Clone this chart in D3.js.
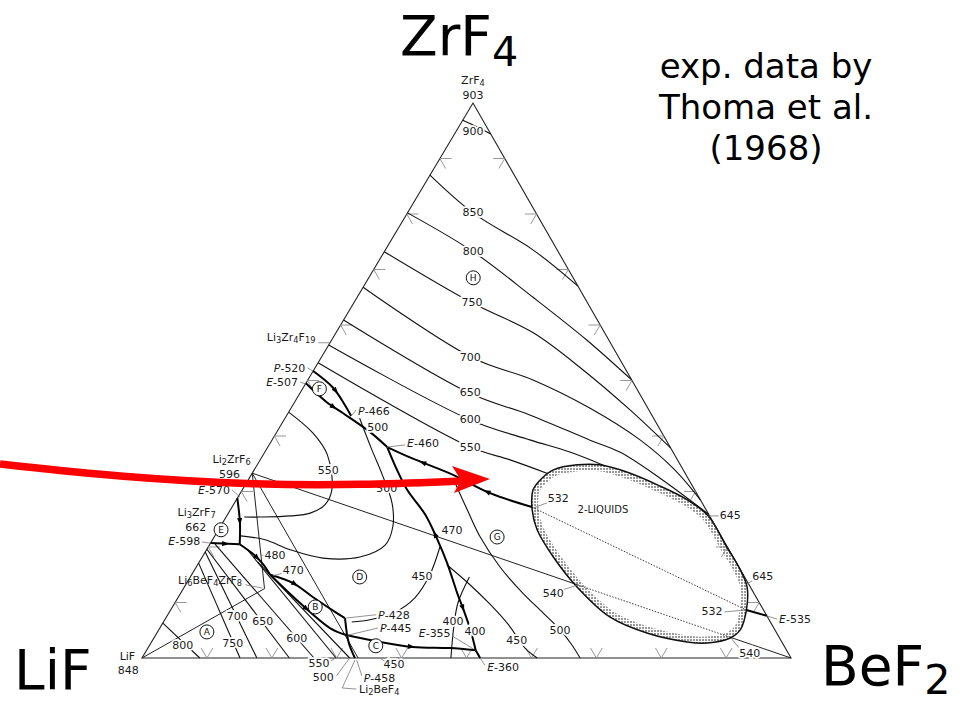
<!DOCTYPE html>
<html>
<head>
<meta charset="utf-8">
<script src="https://cdn.jsdelivr.net/npm/d3@7"></script>
<style>
  body { margin: 0; background: #fff; }
  svg { display: block; }
  text { font-family: "DejaVu Sans", sans-serif; }
</style>
</head>
<body>
<svg id="chart" width="964" height="703"></svg>
<script>
// all compositions are [mol% BeF2, mol% ZrF4], LiF is the rest

// ---- isotherms (thin lines) ----
var iso900 = [[0,96.9],[2.8,95.7],[5.6,94.4]];
var iso850 = [[0,87.0],[10.1,80.2],[22.8,73.5],[33.0,67.0]];
var iso800 = [[0,80.2],[13.7,73.2],[27.1,65.0],[39.3,57.3],[49.9,50.1]];
var iso750 = [[0,73.2],[18.2,64.0],[30.4,58.6],[41.5,51.9],[52.4,44.7],[62.2,37.8]];
var iso700 = [[0,66.8],[23.3,54.1],[34.7,50.1],[46.1,45.0],[56.7,39.3],[64.8,33.9],[71.5,28.5]];
var iso650 = [[0,60.9],[26.2,47.7],[37.4,43.8],[48.9,39.3],[54.7,37.1],[63.3,32.4],[74.1,25.9]];
var iso600 = [[0,56.4],[28.7,42.9],[39.7,39.3],[47.0,37.1],[53.7,34.6]];
var iso550 = [[0,53.2],[31.2,38.0],[38.5,35.7],[45.4,33.3]];
// Li2ZrF6 field
var isoD550 = [[0,44.3],[5.7,40.5],[9.9,36.6],[13.8,30.3],[14.1,27.6],[12.6,26.1],[9.8,25.6],[5.2,25.4],[2.8,25.4]];
var isoD500 = [[11.5,43.2],[16.3,37.5],[20.2,33.0],[24.3,27.9],[26.6,23.6],[27.1,20.4],[24.3,18.2],[18.7,18.0],[12.9,19.5],[8.1,21.3],[4.0,22.0]];
var isoD450 = [[35.7,20.0],[36.7,15.0],[36.5,10.8],[34.8,8.3],[31.6,6.9],[29.0,6.5]];
var isoD400 = [[43.0,14.6],[43.6,10.0],[45.1,5.8],[47.6,0]];
// BeF2 field
var isoG500 = [[31.4,32.4],[36.5,26.7],[41.0,21.8],[46.8,16.4],[52.7,11.7],[57.7,8.1],[61.8,5.1],[65.1,2.3],[67.5,0]];
var isoG450 = [[38.4,16.8],[43.8,13.2],[48.8,9.6],[53.4,6.0],[58.1,1.8],[60.9,0]];
// LiF field, fanning out from the LiF-ZrF4 side
var isoA800 = [[0,6.3],[8.9,0]];
var isoA750 = [[0,17.1],[15.1,0]];
var isoA700 = [[0,19.1],[17.7,0]];
var isoA650 = [[0,19.6],[22.7,0]];
var isoA600 = [[0.8,20.5],[26.5,0]];
var isoA550 = [[6.3,19.5],[29.9,0]];
var isoA500 = [[9.0,17.3],[32.0,0]];

// ---- phase boundaries (heavy lines) ----
var bP520 = [[0,51.7],[4.6,48.7],[8.0,45.6],[10.0,43.6]];
var bE507 = [[0,49.5],[5.1,46.0],[8.5,44.1],[14.4,40.7],[18.4,38.0]];
var bHG = [[18.4,38.0],[23.2,36.0],[31.1,33.0],[38.5,29.7],[46.2,27.2]];
var bDG = [[18.4,38.0],[22.0,33.9],[25.4,30.3],[30.5,25.8],[34.4,21.6],[38.3,17.1],[42.6,11.7],[45.1,8.7],[48.0,5.1],[50.7,1.4]];
var bCG = [[50.7,1.4],[52.1,0]];
var bCD = [[29.5,4.1],[35.2,2.9],[40.7,2.0],[46.5,1.8],[50.7,1.4]];
var bBD = [[12.1,15.0],[16.4,13.5],[20.7,11.0],[25.9,8.1],[27.6,7.2]];
var bP428 = [[27.6,7.2],[29.5,4.1]];
var bEvert = [[0,28.8],[2.7,24.3],[4.6,20.5]];
var bEA = [[0,20.7],[4.6,20.5]];
var bAD = [[4.6,20.5],[7.3,18.9],[9.8,17.1],[12.1,15.0]];
var bAB = [[12.1,15.0],[19.3,9.9],[26.2,5.4],[29.5,4.1]];
var bAC = [[29.5,4.1],[30.8,2.3],[32.8,0]];
var bE535 = [[88.7,8.65],[92.4,7.6]];

// ---- 2-liquid region ----
var gap = [[44.8,30.3],[45.1,32.4],[46.1,33.9],[49.3,34.8],[52.8,34.8],[57.6,33.5],[63.5,31.2],[69.5,28.5],
  [74.2,25.6],[79.9,20.0],[83.6,16.4],[86.7,12.8],[88.7,8.7],[89.6,5.1],[88.8,3.6],[85.7,2.7],[82.5,2.9],
  [75.5,4.5],[68.3,7.4],[60.5,12.8],[54.1,18.2],[49.1,23.1],[46.5,26.7]];
var tie532 = [[46.2,27.2],[88.7,8.65]];
var tie540 = [[60.5,13.15],[88.6,3.78]];

// ---- compound joins ----
var joins = [
  [[0,0],[12.5,12.5]],
  [[0,33.3],[12.5,12.5]],
  [[0,33.3],[33.3,0]],
  [[0,33.3],[60.5,13.15]],
  [[88.6,3.78],[100,0]]
];

// ---- labels: text, BeF2, ZrF4 ----
var labels = [
  ["900",2.65,94.8],["850",10.1,80.2],["800",13.7,73.2],["750",18.2,64.0],["700",23.0,54.1],
  ["650",26.2,47.8],["600",28.7,42.9],["550",31.2,38.0],["500",15.1,41.6],
  ["550",11.5,33.7],["500",22.1,30.6],["450",35.7,14.6],["470",36.1,22.9],
  ["480",11.1,18.4],["470",15.3,15.7],["400",44.6,6.5],["400",48.9,4.7],
  ["450",56.1,3.2],["500",61.9,4.9],["540",57.4,11.7],["532",49.5,28.7],
  ["645",77.6,25.6],["645",88.2,14.6],["532",83.6,8.3],["540",93.2,0.9],
  ["800",5.1,2.3],["750",12.6,2.7],["700",10.9,7.4],["650",15.3,6.5],["600",22.0,3.6],
  ["550",27.8,-1.0],["500",29.7,-3.5],["450",39.4,-1.1],
  ["596",-3.4,33.1],["662",-3.7,23.5],["848",-1.0,-2.2],["903",-0.7,101.4]
];
var labelsEnd = [["P-520",-1.5,52.3],["E-507",-1.3,49.7],["E-570",-1.9,30.3],["E-598",-1.8,21.1]];
var labelsStart = [["P-466",10.6,44.5],["E-460",21.1,38.7],["P-428",32.4,7.8],["P-445",33.9,5.4],
  ["E-535",94.6,7.0],["P-458",36.0,-3.6],["E-360",54.0,-1.6]];
var labelsMid = [["E-355",42.8,4.5],["2-LIQUIDS",57.4,26.7]];
var formulas = [["Li_3Zr_4F_19",-6.5,57.8,"middle"],["Li_2ZrF_6",-4.5,35.9,"middle"],["Li_3ZrF_7",-5.0,26.3,"middle"],
  ["Li_6BeF_4ZrF_8",3.3,14.1,"middle"],["Li_2BeF_4",36.3,-5.6,"start"],["LiF",-2.4,0.3,"middle"],["ZrF_4",-2.1,104.1,"middle"]];
var circled = [["H",16.1,68.5],["F",2.6,48.5],["E",0.4,23.1],["D",26.1,14.6],["B",22.0,9.2],["C",34.9,2.2],["A",7.6,4.7],["G",43.6,21.8]];
var leaders = [
  [[-1.8,56.8],[0,56.8]],[[-1.2,52.3],[0,51.7]],[[-1.0,49.7],[0,49.4]],[[10.2,44.7],[10.0,43.6]],
  [[21.0,38.4],[18.4,38.0]],[[-1.6,30.3],[0.3,29.0]],[[-1.4,20.9],[0,20.7]],[[9.7,18.4],[8.7,18.6]],
  [[13.9,15.3],[12.6,14.8]],[[9.2,13.2],[12.1,12.6]],[[32.1,7.8],[27.8,7.2]],[[33.6,5.4],[29.6,4.1]],
  [[45.7,4.0],[50.3,1.6]],[[58.6,12.3],[60.5,13.2]],[[48.4,28.1],[46.5,27.0]],[[75.9,25.6],[74.3,25.6]],
  [[87.1,14.1],[86.4,13.3]],[[85.5,8.3],[88.6,8.65]],[[94.3,7.0],[92.4,7.6]],[[91.6,1.4],[88.9,3.6]],
  [[29.3,-0.5],[29.9,0]],[[31.6,-3.2],[32.0,0]],[[35.5,-3.2],[33.3,-0.4]],
  [[35.9,-5.6],[33.6,-5.4],[33.0,-0.3]],[[38.2,-0.9],[36.7,0]],[[53.5,-1.3],[52.1,0]]
];

// ---- scales: BeF2 runs along the base, ZrF4 goes up toward the apex ----
var xB = d3.scaleLinear().domain([0, 100]).range([142, 791]);
var xZ = d3.scaleLinear().domain([0, 100]).range([0, 331]);
var yZ = d3.scaleLinear().domain([0, 100]).range([658, 103]);
function px(d) { return xB(d[0]) + xZ(d[1]); }
function py(d) { return yZ(d[1]); }

var svg = d3.select("#chart");
var smooth = d3.line().x(px).y(py).curve(d3.curveCatmullRom.alpha(0.5));
var ring = d3.line().x(px).y(py).curve(d3.curveCatmullRomClosed.alpha(0.5));
var straight = d3.line().x(px).y(py);

// dotted fill used for the band inside the miscibility gap
var defs = svg.append("defs");
defs.append("pattern").attr("id", "dots").attr("width", 3).attr("height", 3)
    .attr("patternUnits", "userSpaceOnUse")
  .append("rect").attr("width", 2).attr("height", 2).attr("fill", "#999");
defs.append("clipPath").attr("id", "gapclip")
  .append("path").attr("d", ring(gap));

var g = svg.append("g");

// triangle
g.append("path")
    .attr("d", straight([[0,0],[100,0],[0,100]]) + "Z")
    .attr("fill", "none").attr("stroke", "#222").attr("stroke-width", 1.1);

// tick marks every 10 %
var ticks = d3.range(10, 100, 10), dl = 1.8;
var tickSegs = [];
ticks.forEach(function(t) {
  tickSegs.push([[t,0],[t,dl]], [[t,0],[t-dl,dl]]);                  // base
  tickSegs.push([[0,t],[dl,t]], [[0,t],[dl,t-dl]]);                  // LiF-ZrF4 side
  tickSegs.push([[100-t,t],[100-t-dl,t]], [[100-t,t],[100-t,t-dl]]); // BeF2-ZrF4 side
});
g.append("g").selectAll("path").data(tickSegs).enter().append("path")
    .attr("d", straight).attr("stroke", "#8c8c8c").attr("stroke-width", 0.9).attr("fill", "none");

// compound joins
g.append("g").selectAll("path").data(joins).enter().append("path")
    .attr("d", straight).attr("stroke", "#222").attr("stroke-width", 1).attr("fill", "none");

// miscibility gap
g.append("path").attr("d", ring(gap))
    .attr("fill", "none").attr("stroke", "url(#dots)").attr("stroke-width", 13)
    .attr("clip-path", "url(#gapclip)");
g.append("path").attr("d", ring(gap))
    .attr("fill", "none").attr("stroke", "#111").attr("stroke-width", 1.5);
g.selectAll(".tie").data([tie532, tie540]).enter().append("path")
    .attr("d", straight).attr("stroke", "#222").attr("stroke-width", 0.9)
    .attr("stroke-dasharray", "1.5 1.5").attr("fill", "none");

// isotherms
var isos = [iso900, iso850, iso800, iso750, iso700, iso650, iso600, iso550,
            isoD550, isoD500, isoD450, isoD400, isoG500, isoG450,
            isoA800, isoA750, isoA700, isoA650, isoA600, isoA550, isoA500];
g.append("g").selectAll("path").data(isos).enter().append("path")
    .attr("d", smooth).attr("stroke", "#111").attr("stroke-width", 1.1).attr("fill", "none");

// boundaries
var bounds = [bP520, bE507, bHG, bDG, bCG, bCD, bBD, bP428, bEvert, bEA, bAD, bAB, bAC, bE535];
var bpaths = g.append("g").selectAll("path").data(bounds).enter().append("path")
    .attr("d", smooth).attr("stroke", "#000").attr("stroke-width", 2).attr("fill", "none");

// little arrow heads along the boundaries (towards falling temperature)
var arrowAt = [[0,0.5,1],[1,0.35,1],[2,0.25,-1],[2,0.7,-1],[3,0.45,-1],[3,0.8,1],[5,0.5,1],[6,0.3,1],
               [8,0.5,1],[9,0.5,1],[10,0.5,1],[11,0.5,1]];
arrowAt.forEach(function(a) {
  var node = bpaths.nodes()[a[0]], L = node.getTotalLength();
  var p = node.getPointAtLength(L * a[1]), q = node.getPointAtLength(Math.min(L, L * a[1] + 2));
  var ang = Math.atan2(q.y - p.y, q.x - p.x) * 180 / Math.PI + (a[2] < 0 ? 180 : 0);
  g.append("path").attr("d", "M4,0L-3,-2.6L-3,2.6Z").attr("fill", "#000")
      .attr("transform", "translate(" + p.x + "," + p.y + ") rotate(" + ang + ")");
});

// leader lines
g.append("g").selectAll("path").data(leaders).enter().append("path")
    .attr("d", straight).attr("stroke", "#777").attr("stroke-width", 0.8).attr("fill", "none");

// number labels with a white halo so the curves break around them
function halo(sel) {
  sel.attr("font-size", 11).attr("fill", "#1a1a1a").attr("dominant-baseline", "central")
     .attr("stroke", "#fff").attr("stroke-width", 3.5).attr("paint-order", "stroke");
}
g.append("g").selectAll("text").data(labels).enter().append("text")
    .attr("x", function(d) { return px([d[1], d[2]]); })
    .attr("y", function(d) { return py([d[1], d[2]]); })
    .attr("text-anchor", "middle").text(function(d) { return d[0]; }).call(halo);

// E-xxx / P-xxx point labels: the letter is italic
function pointLabel(sel, anchor) {
  sel.attr("x", function(d) { return px([d[1], d[2]]); })
     .attr("y", function(d) { return py([d[1], d[2]]); })
     .attr("text-anchor", anchor).call(halo)
     .each(function(d) {
       var t = d3.select(this), m = /^([EP])(-\d+)$/.exec(d[0]);
       if (m) {
         t.append("tspan").attr("font-style", "italic").text(m[1]);
         t.append("tspan").text(m[2]);
       } else t.attr("font-size", 10).text(d[0]);
     });
}
g.append("g").selectAll("text").data(labelsEnd).enter().append("text").call(pointLabel, "end");
g.append("g").selectAll("text").data(labelsStart).enter().append("text").call(pointLabel, "start");
g.append("g").selectAll("text").data(labelsMid).enter().append("text").call(pointLabel, "middle");

// formulas with subscripts, "_n" marks a subscript
function formula(sel, str, size, shift) {
  var parts = str.split(/(_\d+)/).filter(function(s) { return s.length; });
  var down = false, sh = size * shift;
  parts.forEach(function(s) {
    if (s[0] == "_") {
      sel.append("tspan").attr("dy", sh).attr("font-size", size * 0.75).text(s.slice(1));
      down = true;
    } else {
      sel.append("tspan").attr("dy", down ? -sh : 0).text(s);
      down = false;
    }
  });
}
g.append("g").selectAll("text").data(formulas).enter().append("text")
    .attr("x", function(d) { return px([d[1], d[2]]); })
    .attr("y", function(d) { return py([d[1], d[2]]); })
    .attr("text-anchor", function(d) { return d[3]; })
    .attr("dominant-baseline", "central").attr("font-size", 11).attr("fill", "#1a1a1a")
    .each(function(d) { formula(d3.select(this), d[0], 11, 0.28); });

// circled field letters
var cg = g.append("g").selectAll("g").data(circled).enter().append("g")
    .attr("transform", function(d) { return "translate(" + px([d[1], d[2]]) + "," + py([d[1], d[2]]) + ")"; });
cg.append("circle").attr("r", 7).attr("fill", "#fff").attr("stroke", "#111").attr("stroke-width", 1);
cg.append("text").attr("text-anchor", "middle").attr("dominant-baseline", "central")
    .attr("font-size", 9).attr("fill", "#111").text(function(d) { return d[0]; });

// big component names and note
var big = svg.append("g").attr("font-size", 55).attr("fill", "#000");
formula(big.append("text").attr("x", 400).attr("y", 55), "ZrF_4", 55, 0.2);
formula(big.append("text").attr("x", 14).attr("y", 689), "LiF", 55, 0.2);
formula(big.append("text").attr("x", 821).attr("y", 685), "BeF_2", 55, 0.17);
svg.append("text").attr("x", 766).attr("y", 78).attr("text-anchor", "middle")
    .attr("font-size", 34).selectAll("tspan")
    .data(["exp. data by", "Thoma et al.", "(1968)"]).enter().append("tspan")
    .attr("x", 766).attr("dy", function(d, i) { return i ? 41 : 0; }).text(function(d) { return d; });

// red pointer arrow
svg.append("path")
    .attr("d", d3.line().curve(d3.curveBasis)([[0,464],[120,477],[260,485],[360,485],[462,481]]))
    .attr("fill", "none").attr("stroke", "#f00").attr("stroke-width", 7.5);
svg.append("path").attr("d", "M452,466L490,479L454,493L461,480Z").attr("fill", "#f00");
</script>
</body>
</html>
